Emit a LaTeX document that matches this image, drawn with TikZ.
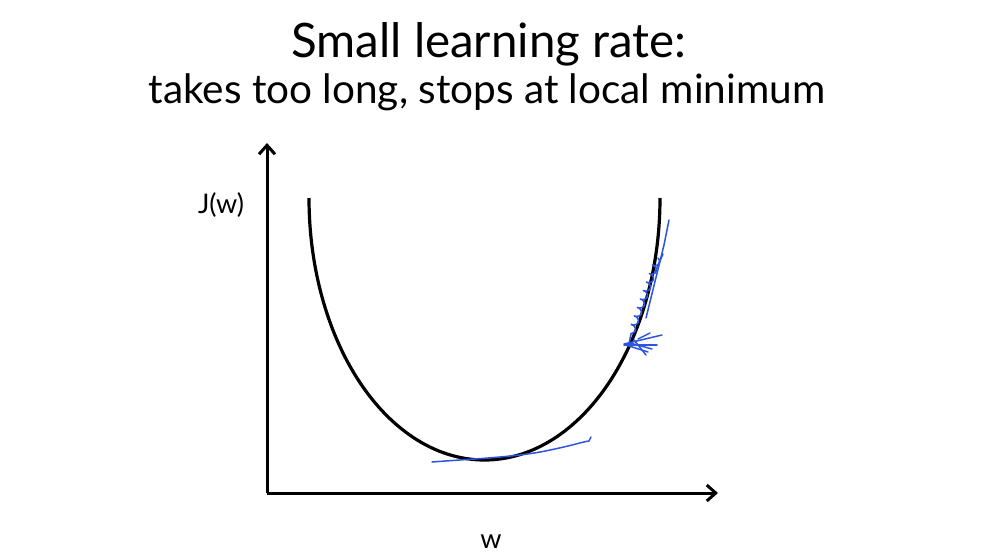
\documentclass[tikz,border=0pt]{standalone}
\usepackage{fontspec}
\setmainfont{Lato}
\usetikzlibrary{arrows.meta,decorations.pathmorphing}
\definecolor{pen}{RGB}{45,85,225}
\begin{document}
\begin{tikzpicture}[x=1pt,y=-1pt,
  axis/.style={line width=3pt,-{Straight Barb[length=9pt,width=16pt,line width=3pt]}},
  curve/.style={line width=3.2pt,black},
  scribble/.style={pen,line width=1.5pt,line cap=round,line join=round},
  titletext/.style={font=\fontsize{47.5}{50}\selectfont,inner sep=0pt,anchor=base},
  subtext/.style={font=\fontsize{40.5}{44}\selectfont,inner sep=0pt,anchor=base},
  labeltext/.style={font=\fontsize{27}{30}\selectfont,inner sep=0pt,anchor=base}]
\useasboundingbox (0,0) rectangle (991,552);
\fill[white] (0,0) rectangle (991,552);
% titles
\node[titletext] (title) at (489,57) {Small learning rate:};
\node[subtext] (sub) at (487,103) {takes too long, stops at local minimum};
% axes
\coordinate (origin) at (267,493);
\coordinate (ytop) at (267,143);
\coordinate (xend) at (718,493);
\draw[axis] (origin) -- (ytop);
\draw[axis] (origin) -- (xend);
\node[labeltext] (jw) at (221,213) {J(w)};
\node[labeltext] (w) at (491,548) {w};
% cost curve: lower half of an ellipse
\draw[curve] plot[domain=0:180,samples=121,smooth]
  ({484.5+175.5*cos(\x)},{198+262*sin(\x)});
% blue scribbles: tangent near minimum
\draw[scribble] (432,462) .. controls (470,459) and (520,457) .. (550,450)
  .. controls (570,446) and (582,442) .. (589,441) -- (591,437);
% blue scribbles along the right branch
\draw[scribble] (669,220) -- (664,245) -- (646,318);
\draw[scribble] (663,254) -- (655,272);
\draw[scribble,decorate,decoration={coil,aspect=0.6,segment length=9pt,amplitude=3pt}]
  (658,258) -- (631,334);
\draw[scribble] (631,334) -- (629,344);
% arrow-like marks at landing point
\draw[scribble] (624,344) -- (662,335);
\draw[scribble] (624,345) -- (657,345);
\draw[scribble] (626,345) -- (648,352);
\draw[scribble] (634,340) -- (646,355);
\draw[scribble] (630,343) -- (652,349);
\draw[scribble] (638,339) -- (650,333);
\end{tikzpicture}
\end{document}
